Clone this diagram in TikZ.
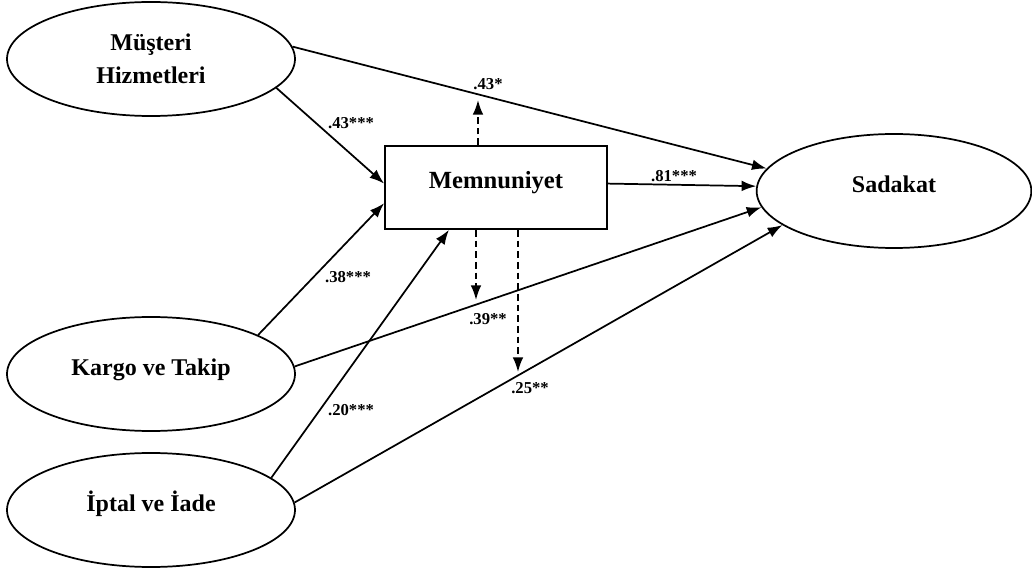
\documentclass[tikz,border=0pt]{standalone}
\usepackage{fontspec}
\setmainfont{Liberation Serif}
\usepackage{tikz}
\usetikzlibrary{shapes.geometric, arrows.meta}
\tikzstyle{construct} = [ellipse, draw=black, line width=1.3pt, inner sep=0pt,
    minimum width=216pt, minimum height=85.5pt, align=center,
font=\fontsize{18}{25}\selectfont\bfseries]
\tikzstyle{oneline} = [text height=13pt, text depth=11pt]
\tikzstyle{mediator} = [rectangle, draw=black, line width=1.3pt, minimum
    width=166.5pt, minimum height=62.25pt, text height=13pt, text depth=11pt,
font=\fontsize{18.5}{25}\selectfont\bfseries]
\tikzstyle{coef} = [inner sep=1pt, font=\fontsize{12.5}{14}\selectfont\bfseries]
\tikzstyle{arrow} = [line width=1.3pt,-{Latex[length=11pt,width=8pt]}]
\tikzstyle{dasharrow} = [arrow, dash pattern=on 5pt off 3pt]

\begin{document}
\begin{tikzpicture}[x=0.75pt, y=-0.75pt]
            \useasboundingbox (0,0) rectangle (1032,570);
            % Constructs
            \node[construct] (musteri) at (151,59) {Müşteri\\Hizmetleri};
            \node[construct, oneline] (kargo) at (151,374) {Kargo ve Takip};
            \node[construct, oneline] (iptal) at (151,510) {İptal ve İade};
            \node[mediator] (memnuniyet) at (496,187.5) {Memnuniyet};
            \node[construct, oneline, minimum width=206pt] (sadakat) at (894,191) {Sadakat};
            % Ends of the dashed arrows
            \coordinate (tip43) at (478,100);
            \coordinate (tip39) at (476,300);
            \coordinate (tip25) at (518,372);
            % Direct paths
            \draw[arrow] (musteri.-13) -- (memnuniyet.178);
            \draw[arrow] (kargo.20) -- (memnuniyet.188);
            \draw[arrow] (iptal.15) -- (memnuniyet.222);
            \draw[arrow] (memnuniyet.2) -- (sadakat.178);
            \draw[arrow] (musteri.5) -- (sadakat.170);
            \draw[arrow] (kargo.3) -- (sadakat.187);
            \draw[arrow] (iptal.3) -- (sadakat.197);
            % Indirect paths
            \draw[dasharrow] (memnuniyet.north -| tip43) -- (tip43);
            \draw[dasharrow] (memnuniyet.south -| tip39) -- (tip39);
            \draw[dasharrow] (memnuniyet.south -| tip25) -- (tip25);
            % Coefficients
            \node[coef] (c1) at (351,123) {.43***};
            \node[coef] (c2) at (348,277) {.38***};
            \node[coef] (c3) at (351,410) {.20***};
            \node[coef] (c4) at (674,176) {.81***};
            \node[coef] (c5) at (488,84) {.43*};
            \node[coef] (c6) at (488,319) {.39**};
            \node[coef] (c7) at (530,388) {.25**};
        \end{tikzpicture}
\end{document}
